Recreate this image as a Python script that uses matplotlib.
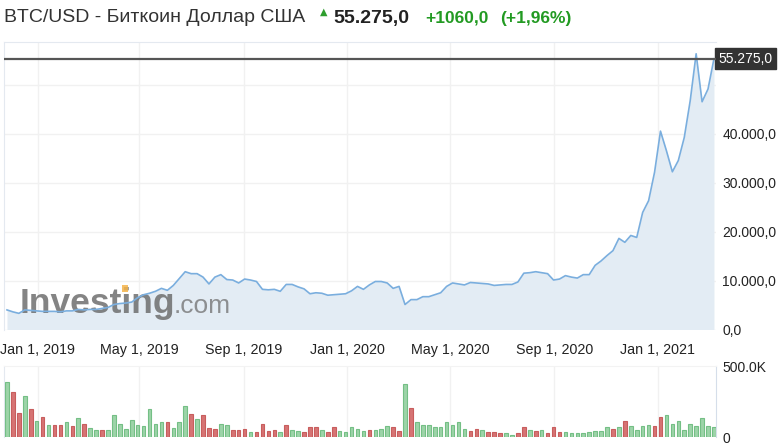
import numpy as np
import pandas as pd
import matplotlib
matplotlib.use("Agg")
import matplotlib.pyplot as plt
from matplotlib.patches import Rectangle

plt.rcParams["font.family"] = ["Liberation Sans", "DejaVu Sans"]

# ---------- данные (недельные, тыс. USD) ----------
dates = pd.date_range("2018-11-26", periods=120, freq="7D")
price_k = [
    4.0, 3.6, 3.3, 4.0, 3.9, 3.8, 3.7, 3.7, 3.7, 3.6,
    3.8, 3.8, 4.1, 4.0, 4.1, 4.1, 4.3, 4.5, 5.1, 5.3,
    5.4, 5.6, 6.5, 7.1, 7.4, 7.8, 8.4, 8.0, 9.0, 10.4,
    11.8, 11.4, 11.4, 10.7, 9.3, 10.7, 11.2, 10.2, 10.1, 9.5,
    10.3, 10.1, 9.8, 8.2, 8.1, 8.2, 7.8, 9.2, 9.2, 8.7,
    8.3, 7.3, 7.5, 7.4, 7.0, 7.1, 7.2, 7.3, 7.9, 8.8,
    8.2, 9.1, 9.8, 9.8, 9.5, 8.4, 8.8, 5.1, 6.1, 6.1,
    6.7, 6.7, 7.1, 7.5, 8.8, 9.5, 9.3, 9.1, 9.6, 9.5,
    9.4, 9.3, 9.0, 9.1, 9.2, 9.2, 9.7, 11.5, 11.6, 11.8,
    11.6, 11.4, 10.1, 10.3, 11.0, 10.7, 10.5, 11.2, 11.2, 13.1,
    14.0, 15.1, 16.1, 18.6, 17.8, 19.2, 18.8, 23.9, 26.3, 32.1,
    40.5, 36.5, 32.2, 34.5, 39.2, 46.7, 56.3, 46.5, 49.1, 55.275,
]
volume_k = [
    385, 317, 171, 292, 196, 112, 144, 84, 84, 84,
    103, 75, 135, 94, 66, 50, 50, 50, 153, 94,
    59, 119, 84, 75, 196, 94, 107, 103, 66, 107,
    221, 164, 128, 153, 66, 59, 94, 84, 50, 50,
    59, 34, 34, 94, 43, 50, 34, 84, 50, 43,
    34, 68, 68, 50, 34, 68, 43, 34, 68, 59,
    43, 50, 50, 59, 75, 68, 43, 370, 203, 103,
    84, 84, 68, 68, 103, 84, 103, 59, 43, 59,
    50, 34, 34, 25, 25, 16, 25, 68, 50, 43,
    50, 25, 68, 34, 34, 25, 25, 25, 34, 43,
    43, 68, 59, 68, 112, 75, 50, 75, 84, 75,
    144, 153, 94, 112, 50, 94, 75, 135, 75, 68,
]
volume_dir = list(
    "grrgrgrgrr" "grgrggrggg" "ggggggg" "rggg" "rgrrrggrrr"
    "grrrrgrggr" "rrgrrgggggr" "gggrrgrgg" "gggggggrrg" "rrrggrrgrg"
    "rrrgggggggg" "rgrggg" "grrgg" "gggggggrgrg" "gggrrgggg" "rgg"
)
last_price = 55275
change_text = "+1060,0"
change_pct = "(+1,96%)"
tick_dates = pd.to_datetime(["2019-01-01", "2019-05-01", "2019-09-01", "2020-01-01",
                             "2020-05-01", "2020-09-01", "2021-01-01"])
price_ticks = [0, 10000, 20000, 30000, 40000, 50000]

W, H = 780, 444


def px(x):
    return x / W


def py(y):
    return 1 - y / H


def fmt_ru(v):
    s = f"{v:,.1f}"
    return s.replace(",", " ").replace(".", ",").replace(" ", ".")


price = np.array(price_k) * 1000
vol = np.array(volume_k)
dirs = volume_dir[:len(vol)]

fig = plt.figure(figsize=(W / 100, H / 100), dpi=100)
ax = fig.add_axes([px(4), py(329.5), px(716) - px(4), py(42) - py(329.5)])
axv = fig.add_axes([px(4), py(437), px(716) - px(4), py(366) - py(437)])

x0 = dates[0] - pd.Timedelta(days=3.5)
x1 = dates[-1] + pd.Timedelta(days=2.4)

# ---------- цена ----------
ax.fill_between(dates, price, 0, color="#e3ecf4", lw=0, zorder=1)
ax.plot(dates, price, color="#7aaede", lw=1.2, zorder=3)
ax.axhline(last_price, color="#555555", lw=1.6, zorder=4)
ax.set_xlim(x0, x1)
ax.set_ylim(0, 58700)
ax.set_xticks(tick_dates)
ax.set_xticklabels([f"{d:%b} {d.day}, {d.year}" for d in tick_dates])
ax.set_yticks(price_ticks)
ax.set_yticklabels([fmt_ru(v) if v < 50000 else "" for v in price_ticks])
ax.yaxis.tick_right()
ax.tick_params(axis="x", length=0, pad=10, labelsize=10.3, labelcolor="#222222")
ax.tick_params(axis="y", length=0, pad=4.5, labelsize=10, labelcolor="#222222")
ax.grid(True, color="#f1f1f1", lw=1, zorder=0)
ax.set_axisbelow(True)
for side in ("bottom", "right"):
    ax.spines[side].set_visible(False)
for side in ("left", "top"):
    ax.spines[side].set_color("#e4e9f0")

ax.text(1.003, last_price, fmt_ru(last_price), transform=ax.get_yaxis_transform(),
        ha="left", va="center", fontsize=10, color="white",
        bbox=dict(boxstyle="square,pad=0.25", fc="#333333", ec="#333333"))

# водяной знак
ax.text(0.0225, 0.058, "Investing", transform=ax.transAxes, fontsize=25.5,
        fontweight="bold", color="#666666", alpha=0.8, zorder=2)
ax.text(0.238, 0.058, ".com", transform=ax.transAxes, fontsize=19,
        color="#777777", alpha=0.8, zorder=2)
ax.add_patch(Rectangle((0.166, 0.13), 0.0084, 0.024, transform=ax.transAxes,
                       color="#f5b44a", alpha=0.85, lw=0, zorder=2))

# ---------- объём ----------
fill = {"g": "#9dd4a8", "r": "#d67474"}
edge = {"g": "#74bf85", "r": "#c85d5d"}
axv.bar(dates, vol, width=4.2, color=[fill[d] for d in dirs],
        edgecolor=[edge[d] for d in dirs], lw=0.8, zorder=3)
axv.set_xlim(x0, x1)
axv.set_ylim(0, 500)
axv.set_xticks(tick_dates)
axv.set_xticklabels([])
axv.set_yticks([0, 500])
axv.set_yticklabels(["0", "500.0K"])
axv.yaxis.tick_right()
axv.tick_params(axis="x", length=0)
axv.tick_params(axis="y", length=0, pad=4.5, labelsize=10, labelcolor="#222222")
axv.grid(True, axis="x", color="#f1f1f1", lw=1, zorder=0)
axv.spines["bottom"].set_visible(False)
axv.spines["top"].set_color("#f3f3f3")
axv.spines["left"].set_color("#e4e9f0")
axv.spines["right"].set_color("#d5deea")

# ---------- заголовок ----------
fig.text(px(4), py(17), "BTC/USD - Биткоин Доллар США", fontsize=14,
         color="#333333", va="center")
fig.text(px(320), py(12), "▲", fontsize=7, color="#2e9e2e", va="center",
         family="DejaVu Sans")
fig.text(px(333), py(18), fmt_ru(last_price), fontsize=14, fontweight="bold",
         color="#222222", va="center")
fig.text(px(425), py(18), change_text, fontsize=12.5, fontweight="bold",
         color="#229a22", va="center")
fig.text(px(500), py(18), change_pct, fontsize=12.5, fontweight="bold",
         color="#229a22", va="center")

fig.savefig("out.png", dpi=100)
